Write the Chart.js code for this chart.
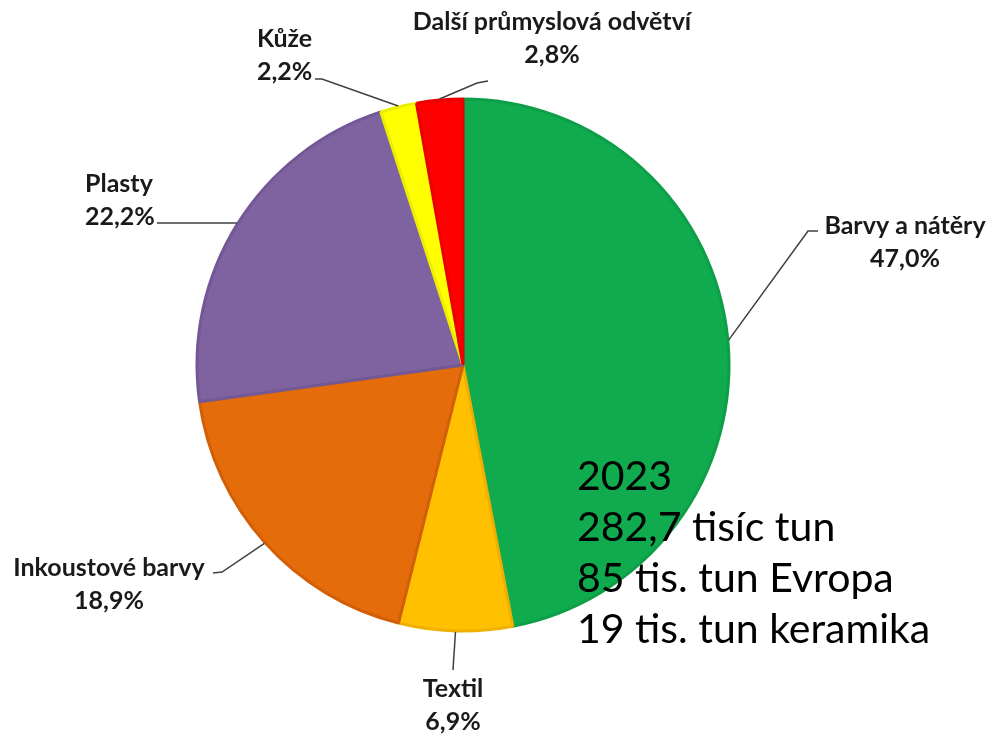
<!DOCTYPE html>
<html>
<head>
<meta charset="utf-8">
<script src="https://cdn.jsdelivr.net/npm/chart.js@4"></script>
<style>
  html, body { margin: 0; padding: 0; background: #ffffff; }
  #wrap { position: relative; width: 992px; height: 735px; }
  #note { position: absolute; left: 577px; top: 449px; font-family: Lato, "Open Sans", sans-serif;
          font-size: 41px; line-height: 51px; color: #000; white-space: nowrap; }
</style>
</head>
<body>
<div id="wrap">
  <canvas id="c" width="992" height="735"></canvas>
  <div id="note">2023<br>282,7 tisíc tun<br>85 tis. tun Evropa<br>19 tis. tun keramika</div>
</div>
<script>
// ---- data ----
const categories = ["Barvy a nátěry", "Textil", "Inkoustové barvy", "Plasty", "Kůže", "Další průmyslová odvětví"];
const shares = [47.0, 6.9, 18.9, 22.2, 2.2, 2.8];
const shareLabels = ["47,0%", "6,9%", "18,9%", "22,2%", "2,2%", "2,8%"];

// ---- styles ----
const fills = ["#10AB4E", "#FFC000", "#E46C0A", "#7F63A1", "#FFFF00", "#FF0000"];
const borders = ["#0E9E47", "#F0B000", "#D25F08", "#735896", "#EDED00", "#EA0000"];
// label layout: [elbowX, elbowY, endX, endY, textX, textY(first line), align]
const labelLayout = [
  [808, 231, 818, 231, 905, 226, "center"],
  [453, 670, 453, 670, 453, 689, "center"],
  [222, 572, 213, 573, 109, 568, "center"],
  [236, 223, 157, 223, 85, 184, "left"],
  [322, 79, 315, 79, 257, 39, "left"],
  [477, 83, 488, 81, 552, 22, "center"]
];

const labelPlugin = {
  id: "pieLabels",
  afterDatasetsDraw(chart) {
    const ctx = chart.ctx;
    const meta = chart.getDatasetMeta(0);
    ctx.save();
    meta.data.forEach((arc, i) => {
      const p = arc.getProps(["x", "y", "startAngle", "endAngle", "outerRadius"], true);
      const mid = (p.startAngle + p.endAngle) / 2;
      const r = p.outerRadius + 1;
      const sx = p.x + Math.cos(mid) * r;
      const sy = p.y + Math.sin(mid) * r;
      const L = labelLayout[i];
      ctx.strokeStyle = "#404040";
      ctx.lineWidth = 1.5;
      ctx.beginPath();
      ctx.moveTo(sx, sy);
      ctx.lineTo(L[0], L[1]);
      ctx.lineTo(L[2], L[3]);
      ctx.stroke();
      ctx.fillStyle = "#1a1a1a";
      ctx.font = "bold 25px Lato, 'Open Sans', sans-serif";
      ctx.textAlign = L[6];
      ctx.textBaseline = "middle";
      ctx.fillText(categories[i], L[4], L[5]);
      ctx.fillText(shareLabels[i], L[4], L[5] + 33);
    });
    ctx.restore();
  }
};

new Chart(document.getElementById("c"), {
  type: "pie",
  data: {
    labels: categories,
    datasets: [{
      data: shares,
      backgroundColor: fills,
      borderColor: borders,
      borderWidth: 3,
      hoverOffset: 0
    }]
  },
  options: {
    responsive: false,
    animation: false,
    radius: 266,
    layout: { padding: { left: 0, right: 66, top: 0, bottom: 5 } },
    plugins: {
      legend: { display: false },
      tooltip: { enabled: false },
      title: { display: false }
    }
  },
  plugins: [labelPlugin]
});
</script>
</body>
</html>
